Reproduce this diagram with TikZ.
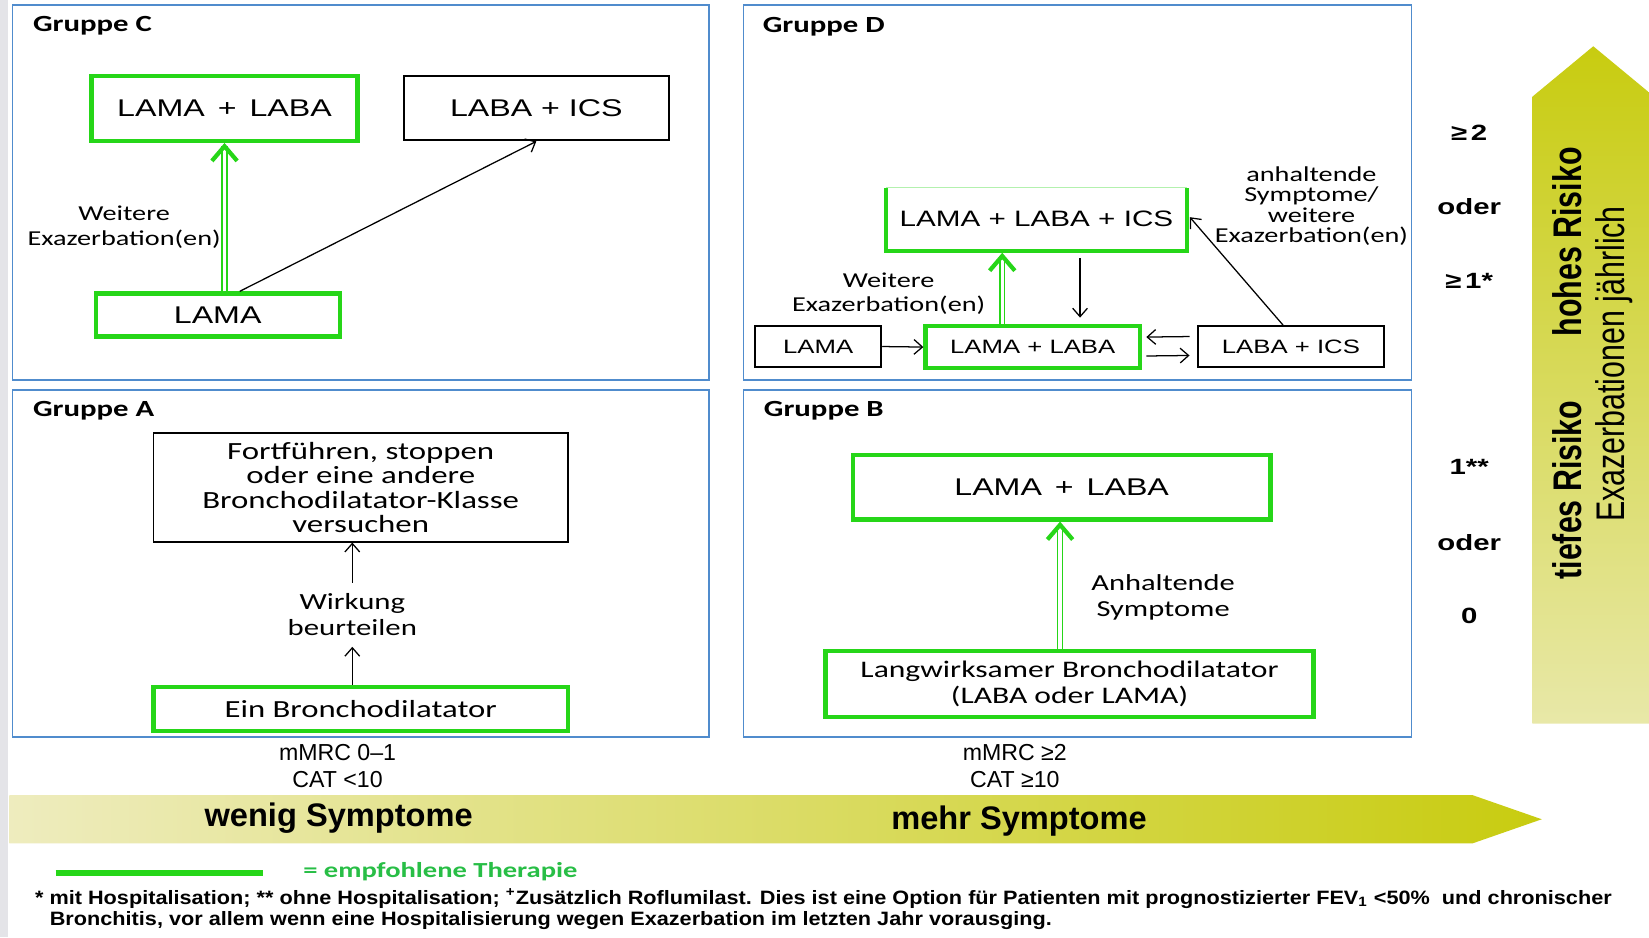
\documentclass[tikz,border=0pt]{standalone}
\usepackage{fontspec}
\setmainfont{Liberation Sans}
\newfontfamily\fA[FakeStretch=1.33]{Liberation Sans}
\newfontfamily\fC[FakeStretch=1.33]{Carlito}
\newfontfamily\fN{Liberation Sans}
\newfontfamily\fW[FakeStretch=1.12]{Liberation Sans}
\newfontfamily\fK[FakeStretch=0.76]{Liberation Sans}
\usetikzlibrary{arrows.meta,calc}
\definecolor{gr}{RGB}{38,214,24}
\definecolor{grtext}{RGB}{40,190,70}
\definecolor{frameblue}{RGB}{80,140,205}
\definecolor{ygA}{RGB}{200,204,16}
\definecolor{ygB}{RGB}{232,232,168}
\definecolor{ygC}{RGB}{238,236,190}
\definecolor{strip}{RGB}{228,228,232}
\newcommand\myfs[2]{\fontsize{#1}{#2}\selectfont}
\tikzset{
  grpframe/.style={draw=frameblue, line width=0.8pt},
  gbox/.style={draw=gr, line width=2pt, inner sep=0pt, align=center},
  bbox/.style={draw=black, line width=0.9pt, inner sep=0pt, align=center},
  glbl/.style={inner sep=0pt, anchor=west, font=\fC\bfseries\myfs{11}{13}},
  lbl/.style={inner sep=0pt, align=center},
  arr/.style={draw=black, line width=0.6pt, -{Straight Barb[length=4pt,width=7pt]}},
  gshaft/.style={draw=gr, double=white, double distance=1.6pt, line width=0.7pt},
  ghead/.style={draw=gr, line width=2pt, line join=miter},
  rlbl/.style={inner sep=0pt, font=\fA\bfseries\myfs{10.5}{12}},
  rot/.style={inner sep=0pt, rotate=90},
}
\newcommand\ghd[1]{\draw[ghead] ($(#1)+(-12,14)$) -- (#1) -- ($(#1)+(12,14)$);}
\begin{document}
\begin{tikzpicture}[x=0.5pt,y=-0.5pt]
\useasboundingbox (0,0) rectangle (1568,891);
\fill[white] (0,0) rectangle (1568,891);
\fill[strip] (0,0) rectangle (8,891);

% ---------- group frames
\draw[grpframe] (12,5) rectangle (674,361);
\draw[grpframe] (707,5) rectangle (1342,361);
\draw[grpframe] (12,371) rectangle (674,701);
\draw[grpframe] (707,371) rectangle (1342,701);

% ---------- Gruppe C
\node[glbl] (labC) at (31,24) {Gruppe C};
\node[gbox, minimum width=126.5pt, minimum height=31pt, font=\fA\myfs{11.5}{13}] (cLL) at (213.5,103) {LAMA \,+\, LABA};
\node[bbox, minimum width=126pt, minimum height=30.5pt, font=\fA\myfs{11.5}{13}] (cLI) at (510,103) {LABA + ICS};
\node[gbox, minimum width=116pt, minimum height=20.5pt, font=\fA\myfs{11.5}{13}] (cL) at (207,299.5) {LAMA};
\node[lbl, font=\fC\myfs{10.1}{11.5}] (cW) at (118,216) {Weitere\\Exazerbation(en)};
\coordinate (tC) at ($(cLL.south)+(0,3)$);
\draw[gshaft] (tC |- cL.north) -- (tC);
\ghd{tC}
\draw[arr] ($(cL.north)+(21,0)$) -- (cLI.south);

% ---------- Gruppe D
\node[glbl] (labD) at (725,25) {Gruppe D};
\node[inner sep=0pt, minimum width=142.5pt, minimum height=29.5pt, font=\fA\myfs{10.6}{12}] (dLLI) at (985.5,208.5) {LAMA + LABA + ICS};
\draw[gr!35, line width=0.6pt] (dLLI.north west) -- (dLLI.north east);
\draw[ghead, line join=miter] (dLLI.north west) -- (dLLI.south west) -- (dLLI.south east) -- (dLLI.north east);
\node[bbox, minimum width=60pt, minimum height=19.5pt, font=\fA\myfs{9.2}{11}] (dL) at (778,329.5) {LAMA};
\node[gbox, minimum width=102pt, minimum height=20pt, font=\fA\myfs{9.2}{11}] (dLL) at (982,330) {LAMA + LABA};
\node[bbox, minimum width=88.5pt, minimum height=19.5pt, font=\fA\myfs{9.2}{11}] (dLI) at (1227.5,329.5) {LABA + ICS};
\draw[arr] (dL.east) -- (dLL.west);
\draw[arr] ($(dLI.west)+(-7,-9.5)$) -- ($(dLL.east)+(4,-9.5)$);
\draw[arr] ($(dLL.east)+(4,8.5)$) -- ($(dLI.west)+(-7,8.5)$);
\coordinate (tD) at ($(dLLI.south)+(-32.5,5)$);
\draw[gshaft] (tD |- dLL.north) -- (tD);
\ghd{tD}
\draw[arr] ($(dLLI.south)+(41.5,7)$) -- ($(dLL.north)+(45,-6)$);
\draw[arr] ($(dLI.north)+(-7.5,0)$) -- ($(dLLI.east)+(3,-2)$);
\node[lbl, font=\fC\myfs{10.1}{11.5}] (dW) at (845,279.5) {Weitere\\Exazerbation(en)};
\node[lbl, font=\fC\myfs{10.1}{9.6}] (dA) at (1247,196) {anhaltende\\Symptome/\\weitere\\Exazerbation(en)};

% ---------- Gruppe A
\node[glbl] (labA) at (31,391) {Gruppe A};
\node[bbox, minimum width=197pt, minimum height=51.5pt, font=\fC\myfs{11.75}{11.6}] (aT) at (343,463.5) {Fortführen, stoppen\\oder eine andere\\Bronchodilatator-Klasse\\versuchen};
\node[gbox, minimum width=197pt, minimum height=21pt, font=\fC\myfs{11.7}{13}] (aB) at (343,674) {Ein Bronchodilatator};
\node[lbl, inner ysep=5pt, font=\fC\myfs{11}{12.4}] (wirk) at (335,584.5) {Wirkung\\beurteilen};
\draw[arr] (wirk.south |- aB.north) -- (wirk.south);
\draw[arr] (wirk.north) -- (wirk.north |- aT.south);

% ---------- Gruppe B
\node[glbl] (labB) at (726,391) {Gruppe B};
\node[gbox, minimum width=198.5pt, minimum height=30.5pt, font=\fA\myfs{11.5}{13}] (bT) at (1009.5,463.5) {LAMA \,+\, LABA};
\node[gbox, minimum width=232pt, minimum height=31.5pt, font=\fC\myfs{11.3}{12.5}] (bB) at (1017,650.5) {Langwirksamer Bronchodilatator\\(LABA oder LAMA)};
\coordinate (tB) at ($(bT.south)+(-1.5,3)$);
\draw[gshaft] (tB |- bB.north) -- (tB);
\ghd{tB}
\node[lbl, font=\fC\myfs{10.9}{12}] (bA) at (1106,568) {Anhaltende\\Symptome};

% ---------- right: risk arrow
\shade[top color=ygA, bottom color=ygB] (1457,688) -- (1457,92) -- (1515,44) -- (1573,92) -- (1573,688) -- cycle;
\node[rot, font=\fK\bfseries\myfs{19}{20}] (hoch) at (1490,230) {hohes Risiko};
\node[rot, font=\fK\bfseries\myfs{19}{20}] (tief) at (1490,466) {tiefes Risiko};
\node[rot, font=\fK\myfs{19}{20}] (exj) at (1535,346) {Exazerbationen jährlich};
\node[rlbl] (r1) at (1397,126) {≥\,2};
\node[rlbl] (r2) at (1397,196) {oder};
\node[rlbl] (r3) at (1397,267) {≥\,1*};
\node[rlbl] (r4) at (1397,444) {1**};
\node[rlbl] (r5) at (1397,516) {oder};
\node[rlbl] (r6) at (1397,586) {0};

% ---------- bottom: symptom arrow
\node[inner sep=0pt, font=\fN\myfs{11}{12.5}, align=center] (m1) at (321,728.5) {mMRC 0–1\\CAT <10};
\node[inner sep=0pt, font=\fN\myfs{11}{12.5}, align=center] (m2) at (965,728.5) {mMRC ≥2\\CAT ≥10};
\shade[left color=ygC, right color=ygA] (9,756) -- (1400,756) -- (1466,779) -- (1400,802) -- (9,802) -- cycle;
\node[inner sep=0pt, font=\fN\bfseries\myfs{15.5}{17}] (wen) at (322,778) {wenig Symptome};
\node[inner sep=0pt, font=\fN\bfseries\myfs{15.5}{17}] (mehr) at (969,781) {mehr Symptome};

% ---------- legend and footnote
\coordinate (lg1) at (53,830);
\coordinate (lg2) at (250,830);
\draw[gr, line width=3pt] (lg1) -- (lg2);
\node[inner sep=0pt, anchor=west, text=grtext, font=\fC\bfseries\myfs{10.2}{12}] (lgt) at (288,829) {= empfohlene Therapie};
\node[inner sep=0pt, anchor=west, font=\fW\bfseries\myfs{9.2}{11}] (fn1) at (33,854) {* mit Hospitalisation; ** ohne Hospitalisation; \textsuperscript{+}Zusätzlich Roflumilast. Dies ist eine Option für Patienten mit prognostizierter FEV\textsubscript{1} <50\%\ \ und chronischer};
\node[inner sep=0pt, anchor=west, font=\fW\bfseries\myfs{9.2}{11}] (fn2) at (47,875) {Bronchitis, vor allem wenn eine Hospitalisierung wegen Exazerbation im letzten Jahr vorausging.};
\end{tikzpicture}
\end{document}
